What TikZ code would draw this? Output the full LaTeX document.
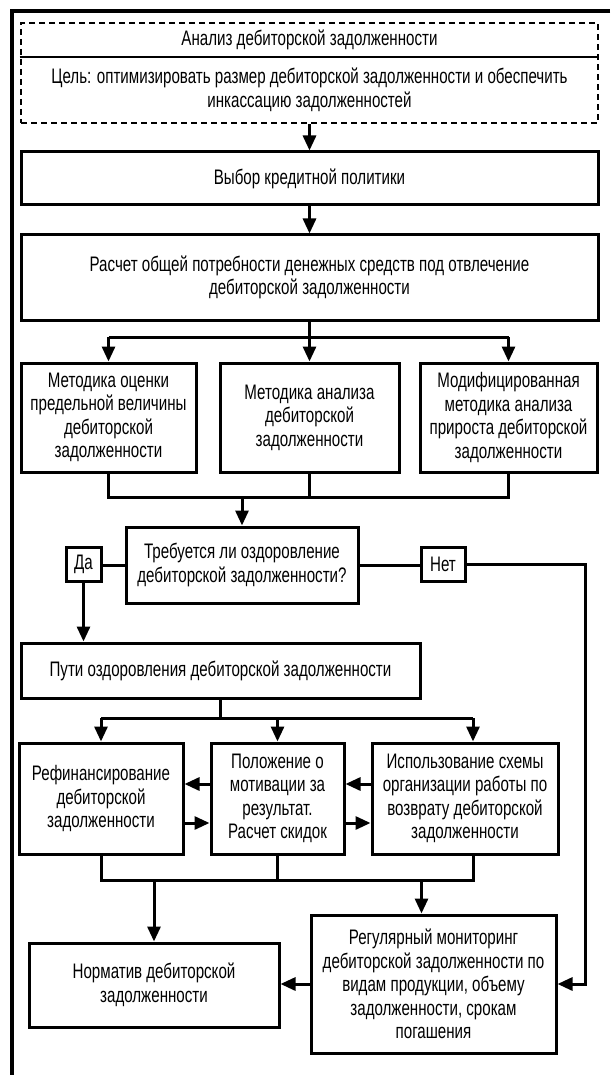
\documentclass[tikz,border=0pt]{standalone}
\usepackage{fontspec}
\setmainfont{Liberation Sans}[FakeStretch=0.72]
\usetikzlibrary{arrows.meta,calc}
\begin{document}
\begin{tikzpicture}[x=1pt,y=-1pt,
  txt/.style={font=\fontsize{21}{23.5}\selectfont, align=center, inner sep=0pt},
  box/.style={txt, draw, line width=3pt, rectangle},
  ln/.style={line width=3pt},
  arr/.style={ln, -{Triangle[length=15pt,width=13pt]}},
  frame/.style={line width=3.8pt}
]
\useasboundingbox (0,0) rectangle (610,1075);
\fill[white] (0,0) rectangle (610,1075);
% outer frame
\coordinate (fTL) at (12,11);
\coordinate (fTR) at (610,11);
\coordinate (fBL) at (12,1075);
\draw[frame] (fTR) -- (fTL) -- (fBL);

% analysis header (dashed)
\node[txt, draw, line width=2.8pt, dash pattern=on 6pt off 4pt, minimum width=577pt, minimum height=100pt] (ana) at (309.5,73) {};
\node[txt, minimum width=577pt, minimum height=34pt] (title) at (309.5,40) {Анализ дебиторской задолженности};
\node[txt, minimum width=577pt, minimum height=66pt] (goal) at (309.5,90) {Цель: оптимизировать размер дебиторской задолженности и обеспечить\\инкассацию задолженностей};
\draw[line width=2.2pt] (ana.west |- title.south) -- (ana.east |- title.south);

\node[box, minimum width=577pt, minimum height=53pt] (vyb) at (309.5,178.5) {Выбор кредитной политики};
\node[box, minimum width=577pt, minimum height=85pt] (ras) at (309.5,277.5) {Расчет общей потребности денежных средств под отвлечение\\дебиторской задолженности};

\node[box, minimum width=175pt, minimum height=109pt] (m1) at (108.5,417.5) {Методика оценки\\предельной величины\\дебиторской\\задолженности};
\node[box, minimum width=179pt, minimum height=109pt] (m2) at (309.5,417.5) {Методика анализа\\дебиторской\\задолженности};
\node[box, minimum width=177pt, minimum height=109pt] (m3) at (508.5,417.5) {Модифицированная\\методика анализа\\прироста дебиторской\\задолженности};

\node[box, minimum width=232pt, minimum height=76pt] (dec) at (242,565) {Требуется ли оздоровление\\дебиторской задолженности?};
\node[box, minimum width=35pt, minimum height=34pt] (da) at (83.5,564.5) {Да};
\node[box, minimum width=44pt, minimum height=34pt] (net) at (443,564.5) {Нет};

\node[box, minimum width=399pt, minimum height=55pt] (puti) at (220.5,670.5) {Пути оздоровления дебиторской задолженности};

\node[box, minimum width=164pt, minimum height=111pt] (ref) at (101,798.5) {Рефинансирование\\дебиторской\\задолженности};
\node[box, minimum width=133pt, minimum height=111pt] (pol) at (277.5,798.5) {Положение о\\мотивации за\\результат.\\Расчет скидок};
\node[box, minimum width=186pt, minimum height=111pt] (isp) at (465,798.5) {Использование схемы\\организации работы по\\возврату дебиторской\\задолженности};

\node[box, minimum width=250pt, minimum height=84pt] (norm) at (154,985) {Норматив дебиторской\\задолженности};
\node[box, minimum width=245pt, minimum height=138pt] (reg) at (433.5,984) {Регулярный мониторинг\\дебиторской задолженности по\\видам продукции, объему\\задолженности, срокам\\погашения};

% connectors
\draw[arr] (ana.south) -- (vyb.north);
\draw[arr] (vyb.south) -- (ras.north);

\coordinate (y1) at (0,337);
\draw[ln] (ras.south) -- (ras.south |- y1);
\draw[ln] (m1.north |- y1) -- (m3.north |- y1);
\draw[arr] (m1.north |- y1) -- (m1.north);
\draw[arr] (m2.north |- y1) -- (m2.north);
\draw[arr] (m3.north |- y1) -- (m3.north);

\coordinate (y2) at (0,497);
\draw[ln] (m1.south) -- (m1.south |- y2) -- (m3.south |- y2) -- (m3.south);
\draw[ln] (m2.south) -- (m2.south |- y2);
\draw[arr] (dec.north |- y2) -- (dec.north);

\draw[ln] (dec.west) -- (dec.west -| da.east);
\draw[ln] (dec.east) -- (dec.east -| net.west);
\draw[arr] (da.south) -- (da.south |- puti.north);

\coordinate (nc) at (585,564.5);
\draw[arr] (net.east) -- (nc) |- (reg.east);

\coordinate (y3) at (0,718);
\draw[ln] (puti.south) -- (puti.south |- y3);
\draw[ln] (ref.north |- y3) -- ($(isp.north |- y3)+(8,0)$);
\draw[arr] (ref.north |- y3) -- (ref.north);
\draw[arr] (pol.north |- y3) -- (pol.north);
\draw[arr] ($(isp.north |- y3)+(8,0)$) -- ($(isp.north)+(8,0)$);

\coordinate (ya) at (0,784);
\coordinate (yb) at (0,823);
\draw[arr] (pol.west |- ya) -- (ref.east |- ya);
\draw[arr] (ref.east |- yb) -- (pol.west |- yb);
\draw[arr] (isp.west |- ya) -- (pol.east |- ya);
\draw[arr] (pol.east |- yb) -- (isp.west |- yb);

\coordinate (y4) at (0,880);
\draw[ln] (ref.south) -- (ref.south |- y4) -- ($(isp.south |- y4)+(8,0)$) -- ($(isp.south)+(8,0)$);
\draw[ln] (pol.south) -- (pol.south |- y4);
\draw[arr] (norm.north |- y4) -- (norm.north);
\draw[arr] ($(reg.north |- y4)+(-12,0)$) -- ($(reg.north)+(-12,0)$);
\draw[arr] (reg.west) -- (reg.west -| norm.east);
\end{tikzpicture}
\end{document}
